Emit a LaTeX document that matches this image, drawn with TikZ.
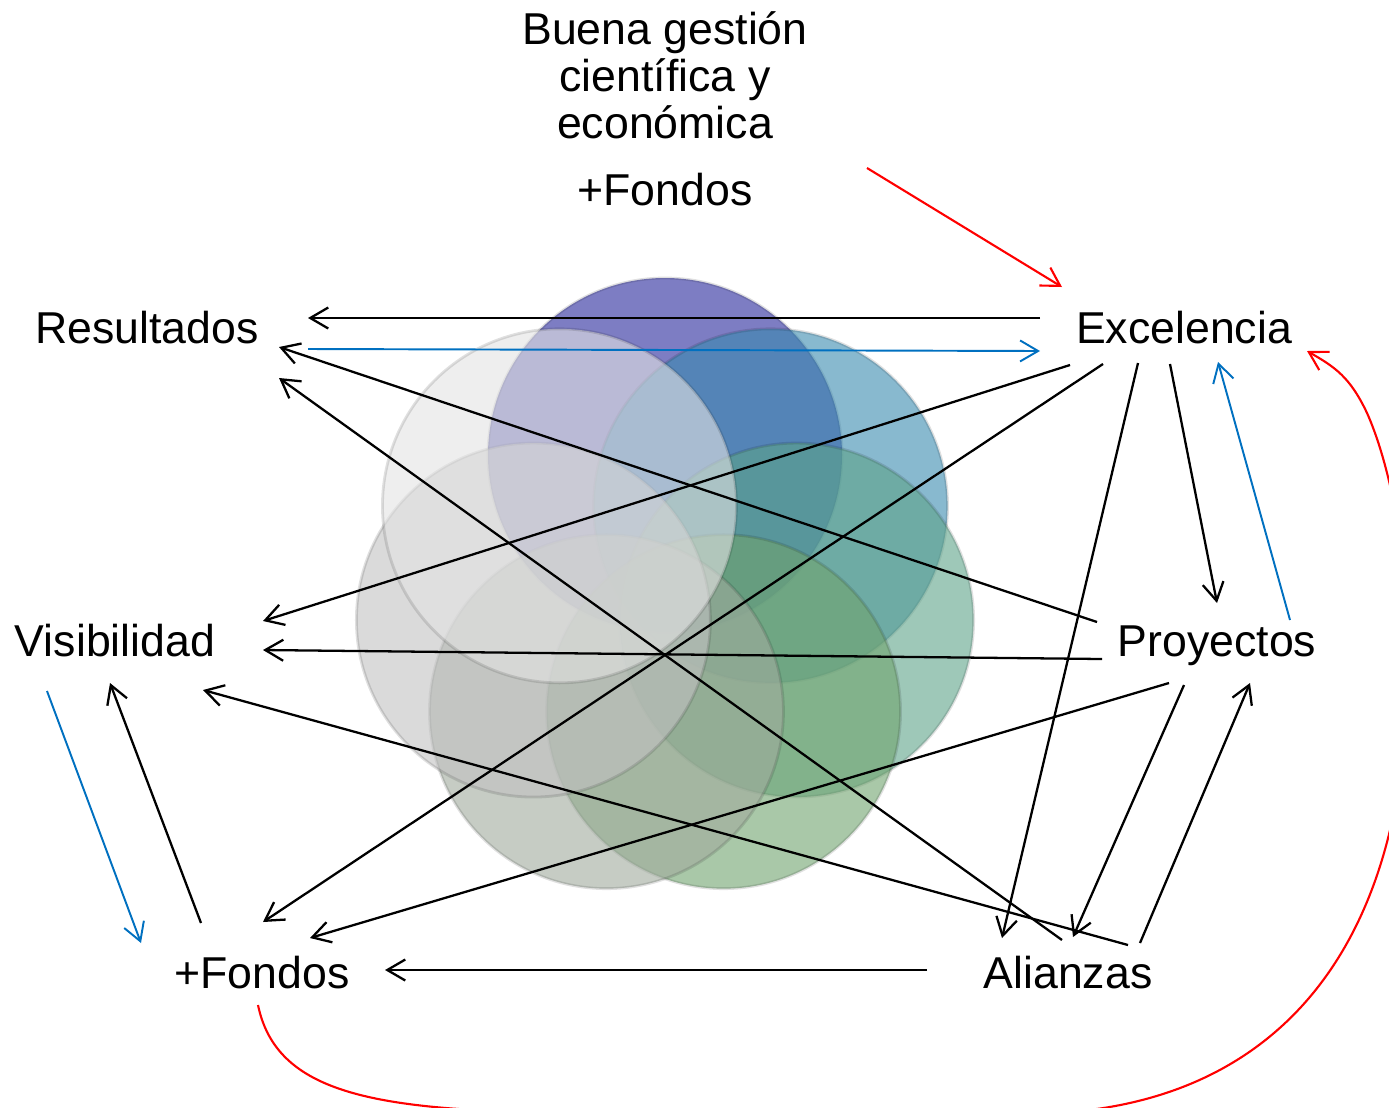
\documentclass[tikz,border=0pt]{standalone}
\usepackage{fontspec}
\setmainfont{Liberation Sans}
\usetikzlibrary{arrows.meta}
\usetikzlibrary{positioning,shapes}

\definecolor{vPurple}{RGB}{38,38,155}
\definecolor{vBlue}{RGB}{57,138,175}
\definecolor{vTeal}{RGB}{93,163,137}
\definecolor{vGreen}{RGB}{112,163,110}
\definecolor{vGrayGreen}{RGB}{160,170,157}
\definecolor{vGray}{RGB}{193,193,193}
\definecolor{vLight}{RGB}{227,227,227}
\definecolor{lineBlue}{RGB}{0,112,192}

\begin{document}
\begin{tikzpicture} [->,>={Straight Barb[length=1.8mm,width=2.1mm]},line width=0.65pt,
  every node/.style={font=\fontsize{12.7}{13.4}\selectfont,inner sep=0pt,anchor=base},
  blueline/.style={draw=lineBlue,line width=0.55pt},
  redline/.style={draw=red,line width=0.6pt}]

  \useasboundingbox (0,0) rectangle (13.89,11.07);

  % venn ring
  \begin{scope}[shift={(6.65,5.17)}]
    \foreach \a/\c in {90/vPurple,38.57/vBlue,-12.86/vTeal,-64.29/vGreen,
                       -115.71/vGrayGreen,-167.14/vGray,141.43/vLight}
      \filldraw[-,fill=\c,fill opacity=0.6,draw=black,draw opacity=0.12,line width=0.8pt]
        (\a:1.35) circle (1.77);
  \end{scope}

  \node (1) at (1.47,7.64) {Resultados};
  \node (2) at (11.84,7.64) {Excelencia};
  \node (3) at (1.15,4.51) {Visibilidad};
  \node (4) at (12.17,4.51) {Proyectos};
  \node (5) at (2.62,1.19) {+Fondos};
  \node (6) at (10.68,1.19) {Alianzas};
  \node (7) [anchor=north,align=center] at (6.65,10.97) {Buena gestión\\científica y\\económica};
  \node (8) at (6.65,9.02) {+Fondos};

  \path
    ([shift={(-1.44,0.25)}]2.base) edge ([shift={(1.61,0.25)}]1.base)
    ([shift={(1.61,-0.06)}]1.base) edge[blueline] ([shift={(-1.44,-0.08)}]2.base)
    ([shift={(-1.20,0.34)}]4.base) edge ([shift={(1.32,-0.04)}]1.base)
    ([shift={(-0.06,0.48)}]6.base) edge ([shift={(1.32,-0.35)}]1.base)
    ([shift={(-1.14,-0.22)}]2.base) edge ([shift={(1.48,0.35)}]3.base)
    ([shift={(-0.81,-0.21)}]2.base) edge ([shift={(0.01,0.66)}]5.base)
    ([shift={(-0.46,-0.20)}]2.base) edge ([shift={(-0.66,0.50)}]6.base)
    ([shift={(-0.14,-0.21)}]2.base) edge ([shift={(0,0.53)}]4.base)
    ([shift={(0.73,0.36)}]4.base) edge[blueline] ([shift={(0.34,-0.19)}]2.base)
    ([shift={(-1.15,-0.03)}]4.base) edge ([shift={(1.48,0.06)}]3.base)
    ([shift={(-0.48,-0.27)}]4.base) edge ([shift={(0.48,0.50)}]5.base)
    ([shift={(-0.33,-0.29)}]4.base) edge ([shift={(0.05,0.51)}]6.base)
    ([shift={(0.72,0.45)}]6.base) edge ([shift={(0.33,-0.27)}]4.base)
    ([shift={(0.60,0.43)}]6.base) edge ([shift={(0.88,-0.34)}]3.base)
    ([shift={(-1.41,0.18)}]6.base) edge ([shift={(1.23,0.18)}]5.base)
    ([shift={(-0.61,0.65)}]5.base) edge ([shift={(-0.05,-0.27)}]3.base)
    ([shift={(-0.68,-0.35)}]3.base) edge[blueline] ([shift={(-1.21,0.45)}]5.base)
    ([shift={(2.02,0.37)}]8.base) edge[redline] ([shift={(-1.22,0.56)}]2.base);

  % loop back from +Fondos to Excelencia
  \draw[redline] ([shift={(-0.04,-0.17)}]5.base) .. controls (2.75,0.2) and (3.6,0.0) .. (5.2,-0.05)
    -- (10.7,-0.05) .. controls (12.5,0.1) and (13.6,1.2) .. (13.95,3.0)
    .. controls (14.25,4.6) and (14.0,6.2) .. (13.67,6.94)
    .. controls (13.5,7.3) and (13.35,7.4) .. ([shift={(1.23,-0.08)}]2.base);

\end{tikzpicture}
\end{document}
